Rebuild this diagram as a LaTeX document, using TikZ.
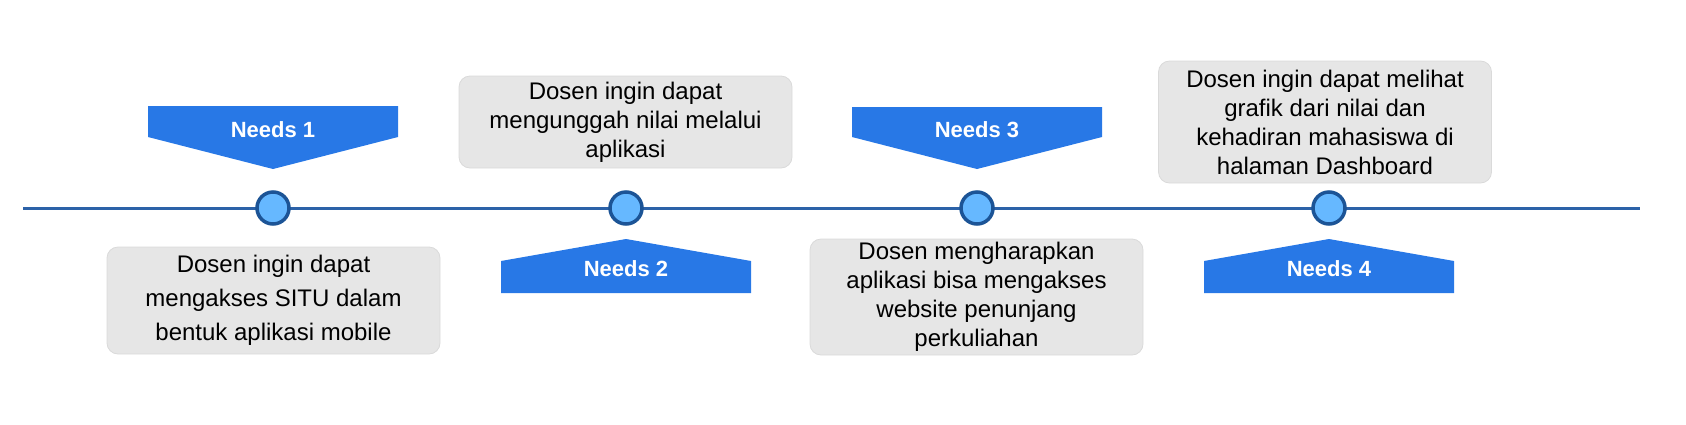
\documentclass[tikz,border=0pt]{standalone}
\usepackage{fontspec}
\setmainfont{Liberation Sans}
\usetikzlibrary{positioning}

\definecolor{lineblue}{RGB}{44,98,168}
\definecolor{dotblue}{RGB}{28,84,150}
\definecolor{dotfill}{RGB}{102,184,255}
\definecolor{tagblue}{RGB}{40,120,230}
\definecolor{boxgray}{RGB}{230,230,230}
\definecolor{boxedge}{RGB}{218,218,218}

\begin{document}
\begin{tikzpicture}[x=1pt, y=-1pt]
                \tikzset{
                    dot/.style={circle, draw=dotblue, fill=dotfill, line width=3.5pt, minimum size=32pt, inner sep=0pt},
                    needbox/.style={rectangle, rounded corners=11pt, fill=boxgray, draw=boxedge, line width=0.8pt,
                        align=center, minimum width=333pt, inner sep=0pt, font=\fontsize{24}{29}\selectfont},
                    tag/.style={fill=tagblue, draw=none},
                    taglabel/.style={text=white, font=\fontsize{22}{26}\selectfont\bfseries, inner sep=0pt}
                }
                \useasboundingbox (0,0) rectangle (1686,424);

                % TIMELINE
                \coordinate (start) at (23,208);
                \coordinate (end) at (1640,208);
                \draw[lineblue, line width=3pt] (start) -- (end);

                % DOTS
                \node[dot] (d1) at (273,208) {};
                \node[dot] (d2) at (626,208) {};
                \node[dot] (d3) at (977,208) {};
                \node[dot] (d4) at (1329,208) {};

                % TAGS
                \fill[tag] (148,106) -- (398,106) -- (398,137) -- (273,169) -- (148,137) -- cycle;
                \fill[tag] (501,293) -- (751,293) -- (751,261) -- (626,239) -- (501,261) -- cycle;
                \fill[tag] (852,107) -- (1102,107) -- (1102,137) -- (977,169) -- (852,137) -- cycle;
                \fill[tag] (1204,293) -- (1454,293) -- (1454,261) -- (1329,239) -- (1204,261) -- cycle;
                \node[taglabel] (t1) at (273,130) {Needs 1};
                \node[taglabel] (t2) at (626,269) {Needs 2};
                \node[taglabel] (t3) at (977,130) {Needs 3};
                \node[taglabel] (t4) at (1329,269) {Needs 4};

                % BOXES
                \node[needbox, minimum height=107pt, font=\fontsize{24}{34}\selectfont] (b1) at (273.5,300.5)
                    {Dosen ingin dapat\\mengakses SITU dalam\\bentuk aplikasi mobile};
                \node[needbox, minimum height=92pt] (b2) at (625.5,122)
                    {Dosen ingin dapat\\mengunggah nilai melalui\\aplikasi};
                \node[needbox, minimum height=116pt] (b3) at (976.5,297)
                    {Dosen mengharapkan\\aplikasi bisa mengakses\\website penunjang\\perkuliahan};
                \node[needbox, minimum height=122pt] (b4) at (1325,122)
                    {Dosen ingin dapat melihat\\grafik dari nilai dan\\kehadiran mahasiswa di\\halaman Dashboard};

            \end{tikzpicture}
\end{document}
